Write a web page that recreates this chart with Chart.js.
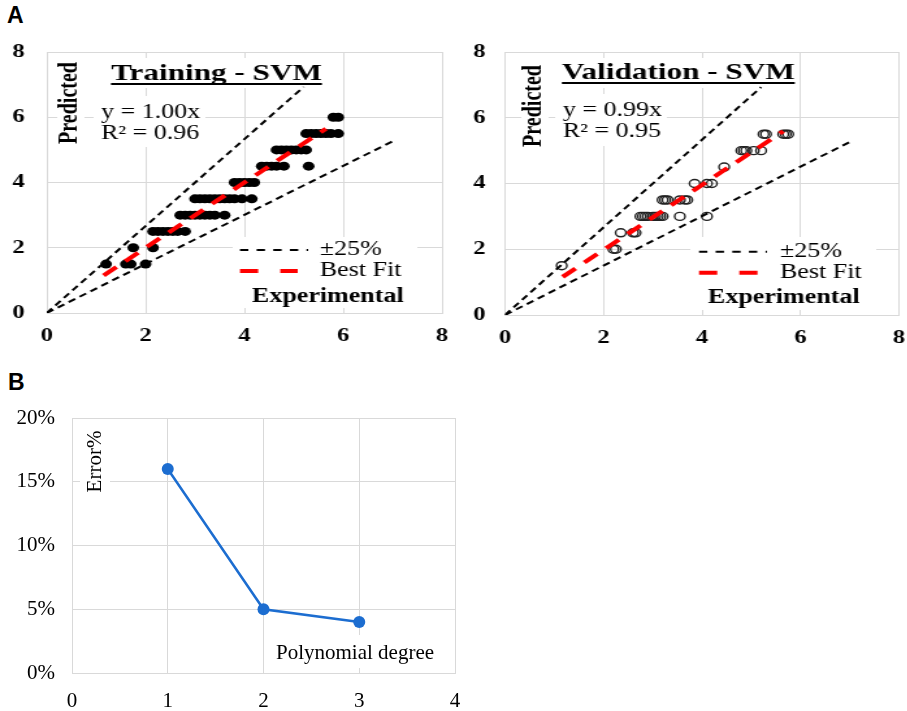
<!DOCTYPE html>
<html>
<head>
<meta charset="utf-8">
<script src="https://cdn.jsdelivr.net/npm/chart.js@4/dist/chart.umd.min.js"></script>
<style>
  html, body { margin: 0; padding: 0; background: #fff; }
  body { width: 907px; height: 711px; position: relative; overflow: hidden; }
  .panel { position: absolute; }
  .panel canvas { display: block; }
  .wide { transform-origin: 0 0; transform: scaleX(1.3); }
  .tag { position: absolute; font: bold 23px "Liberation Sans", Arial, sans-serif; line-height: 1; color: #000; }
</style>
</head>
<body>
<div class="tag" style="left:7px;top:4px;">A</div>
<div class="tag" style="left:8px;top:371px;">B</div>

<div class="panel wide" style="left:0px;top:30px;"><canvas id="train" width="350" height="330"></canvas></div>
<div class="panel wide" style="left:455px;top:30px;"><canvas id="valid" width="348" height="330"></canvas></div>
<div class="panel" style="left:0px;top:400px;"><canvas id="error" width="480" height="311"></canvas></div>

<script>
// ---- Training set: experimental vs predicted ----
const trainExperimental = [
  1.2, 1.6, 1.7, 2.0,
  1.75, 2.15,
  2.15, 2.25, 2.35, 2.45, 2.55, 2.65, 2.8,
  2.7, 2.8, 2.9, 3.0, 3.1, 3.2, 3.3, 3.4, 3.6,
  3.0, 3.1, 3.2, 3.3, 3.4, 3.5, 3.6, 3.7, 3.8, 3.95, 4.15,
  3.8, 3.9, 4.0, 4.1, 4.2,
  4.35, 4.45, 4.55, 4.65, 4.8, 5.3,
  4.65, 4.75, 4.85, 4.95, 5.05, 5.15, 5.25,
  5.25, 5.35, 5.45, 5.55, 5.65, 5.75, 5.9,
  5.8, 5.9
];
const trainPredicted = [
  1.5, 1.5, 1.5, 1.5,
  2.0, 2.0,
  2.5, 2.5, 2.5, 2.5, 2.5, 2.5, 2.5,
  3.0, 3.0, 3.0, 3.0, 3.0, 3.0, 3.0, 3.0, 3.0,
  3.5, 3.5, 3.5, 3.5, 3.5, 3.5, 3.5, 3.5, 3.5, 3.5, 3.5,
  4.0, 4.0, 4.0, 4.0, 4.0,
  4.5, 4.5, 4.5, 4.5, 4.5, 4.5,
  5.0, 5.0, 5.0, 5.0, 5.0, 5.0, 5.0,
  5.5, 5.5, 5.5, 5.5, 5.5, 5.5, 5.5,
  6.0, 6.0
];

// ---- Validation set: experimental vs predicted ----
const validExperimental = [
  1.15,
  2.2, 2.25,
  2.35, 2.6, 2.65,
  2.75, 2.8, 2.85, 2.9, 3.0, 3.05, 3.1, 3.15, 3.2, 3.55, 4.1,
  3.2, 3.25, 3.3, 3.55, 3.65, 3.7,
  3.85, 4.1, 4.2,
  4.45,
  4.8, 4.85, 4.9, 5.05, 5.2,
  5.25, 5.3, 5.65, 5.7, 5.75
];
const validPredicted = [
  1.5,
  2.0, 2.0,
  2.5, 2.5, 2.5,
  3.0, 3.0, 3.0, 3.0, 3.0, 3.0, 3.0, 3.0, 3.0, 3.0, 3.0,
  3.5, 3.5, 3.5, 3.5, 3.5, 3.5,
  4.0, 4.0, 4.0,
  4.5,
  5.0, 5.0, 5.0, 5.0, 5.0,
  5.5, 5.5, 5.5, 5.5, 5.5
];

// ±25% envelope end points and fitted lines (x, y)
const upperBandX = [0, 5.2],  upperBandY = [0, 6.93];
const lowerBandX = [0, 7.05], lowerBandY = [0, 5.3];
const trainFitX = [1.15, 5.65], trainFitY = [1.15, 5.65];
const validFitX = [1.17, 5.65], validFitY = [1.16, 5.59];

// Axis ticks for panel A
const parityTicks = [0, 2, 4, 6, 8];

// ---- Panel B: error vs polynomial degree ----
const degrees = [1, 2, 3];
const errorPct = [16, 5, 4];
const degreeTicks = [0, 1, 2, 3, 4];
const errorTicks = [0, 5, 10, 15, 20];

const SERIF = '"Liberation Serif", "Times New Roman", serif';
const GRID = '#d9d9d9';

const pts = (xs, ys) => xs.map((x, i) => ({ x: x, y: ys[i] }));
const fixedTicks = arr => scale => { scale.ticks = arr.map(v => ({ value: v })); };
// fixed axis thickness, and no extra room reserved for label overhang
const fixX = h => s => { s.height = h; s.paddingLeft = 0; s.paddingRight = 0; };
const fixY = w => s => { s.width = w; s.paddingTop = 0; s.paddingBottom = 0; };

// Text boxes, legend samples and labels drawn inside the plot area
const notesPlugin = {
  id: 'notes',
  beforeDatasetsDraw(chart, args, opts) {
    const ctx = chart.ctx;
    ctx.save();
    ctx.fillStyle = '#fff';
    (opts.boxes || []).forEach(b => ctx.fillRect(b[0], b[1], b[2] - b[0], b[3] - b[1]));
    (opts.samples || []).forEach(s => {
      ctx.beginPath();
      ctx.setLineDash(s.dash);
      ctx.lineWidth = s.width;
      ctx.strokeStyle = s.color;
      ctx.moveTo(s.x1, s.y);
      ctx.lineTo(s.x2, s.y);
      ctx.stroke();
    });
    ctx.setLineDash([]);
    (opts.texts || []).forEach(t => {
      ctx.save();
      ctx.font = t.font;
      ctx.fillStyle = '#000';
      ctx.textAlign = t.align || 'left';
      ctx.textBaseline = t.baseline || 'alphabetic';
      ctx.translate(t.x, t.y);
      if (t.rotate) ctx.rotate(t.rotate);
      ctx.fillText(t.text, 0, 0);
      if (t.underline) {
        const w = ctx.measureText(t.text).width;
        const x0 = t.align === 'center' ? -w / 2 : 0;
        ctx.fillRect(x0, 3, w, 2);
      }
      ctx.restore();
    });
    ctx.restore();
  }
};

function parityChart(id, cfg) {
  const bold19 = { family: SERIF, size: 19, weight: 'bold' };
  return new Chart(document.getElementById(id), {
    type: 'scatter',
    data: {
      datasets: [
        {
          data: pts(cfg.fitX, cfg.fitY), showLine: true, pointRadius: 0,
          borderColor: '#ff0000', borderWidth: 4, borderDash: [13, 9], borderCapStyle: 'butt'
        },
        {
          data: pts(upperBandX, upperBandY), showLine: true, pointRadius: 0,
          borderColor: '#000', borderWidth: 2, borderDash: [6, 4]
        },
        {
          data: pts(lowerBandX, lowerBandY), showLine: true, pointRadius: 0,
          borderColor: '#000', borderWidth: 2, borderDash: [6, 4]
        },
        cfg.pointsDataset
      ]
    },
    options: {
      responsive: false,
      animation: false,
      devicePixelRatio: 1,
      layout: { autoPadding: false, padding: { left: 0, top: 22, right: cfg.padRight, bottom: 0 } },
      plugins: {
        legend: { display: false },
        tooltip: { enabled: false },
        notes: cfg.notes
      },
      scales: {
        x: {
          type: 'linear', min: 0, max: 8,
          afterBuildTicks: fixedTicks(parityTicks),
          afterFit: fixX(cfg.xAxisHeight),
          grid: { color: GRID, drawTicks: false },
          border: { color: GRID },
          ticks: { font: bold19, color: '#000', padding: 12, maxRotation: 0 }
        },
        y: {
          type: 'linear', min: 0, max: 8,
          afterBuildTicks: fixedTicks(parityTicks),
          afterFit: fixY(cfg.yAxisWidth),
          grid: { color: GRID, drawTicks: false },
          border: { color: GRID },
          ticks: { font: bold19, color: '#000', padding: cfg.yTickPad }
        }
      }
    },
    plugins: [notesPlugin]
  });
}

function parityNotes(o) {
  const b20 = 'bold 20px ' + SERIF;
  const r20 = '20px ' + SERIF;
  return {
    boxes: [o.titleBox, o.predBox, o.eqBox, o.legBox],
    samples: [
      { x1: o.legX1, x2: o.legX2a, y: o.row1, dash: [6.4, 6.4], width: 2, color: '#000' },
      { x1: o.legX1, x2: o.legX2b, y: o.row2, dash: [14, 17], width: 4, color: '#ff0000' }
    ],
    texts: [
      { text: o.title, x: o.titleX, y: o.titleY, font: 'bold 24px ' + SERIF, align: 'center', underline: true },
      { text: 'Predicted', x: o.predX, y: o.predY, font: b20, align: 'center', baseline: 'middle', rotate: -Math.PI / 2 },
      { text: o.eq1, x: o.eqX, y: o.eqY1, font: r20 },
      { text: o.eq2, x: o.eqX, y: o.eqY2, font: r20 },
      { text: '±25%', x: o.legTextX, y: o.row1, font: r20, baseline: 'middle' },
      { text: 'Best Fit', x: o.legTextX, y: o.row2, font: r20, baseline: 'middle' },
      { text: 'Experimental', x: o.expX, y: o.row3, font: b20, baseline: 'middle' }
    ]
  };
}

parityChart('train', {
  fitX: trainFitX, fitY: trainFitY,
  padRight: 10, xAxisHeight: 47, yAxisWidth: 36, yTickPad: 17,
  pointsDataset: {
    data: pts(trainExperimental, trainPredicted),
    pointRadius: 4.5, pointHoverRadius: 4.5, borderWidth: 0,
    backgroundColor: '#000', pointBackgroundColor: '#000'
  },
  notes: parityNotes({
    title: 'Training - SVM', titleX: 166.5, titleY: 50, titleBox: [80, 28, 254, 58],
    predX: 53.5, predY: 73, predBox: [44, 30, 65, 116],
    eq1: 'y = 1.00x', eq2: 'R² = 0.96', eqX: 77.7, eqY1: 88, eqY2: 109, eqBox: [72, 66, 158, 117],
    legBox: [179, 207, 321, 278],
    legX1: 184.6, legX2a: 237, legX2b: 229, legTextX: 246,
    row1: 220, row2: 241, row3: 267, expX: 193.8
  })
});

parityChart('valid', {
  fitX: validFitX, fitY: validFitY,
  padRight: 6.5, xAxisHeight: 45, yAxisWidth: 38.5, yTickPad: 15,
  pointsDataset: {
    data: pts(validExperimental, validPredicted),
    pointRadius: 4, pointHoverRadius: 4, borderWidth: 1.4,
    borderColor: '#222', backgroundColor: 'rgba(0,0,0,0)',
    pointBorderColor: '#222', pointBackgroundColor: 'rgba(0,0,0,0)'
  },
  notes: parityNotes({
    title: 'Validation - SVM', titleX: 171.8, titleY: 49, titleBox: [82, 28, 262, 58],
    predX: 60.4, predY: 76, predBox: [51, 30, 72, 120],
    eq1: 'y = 0.99x', eq2: 'R² = 0.95', eqX: 83, eqY1: 86, eqY2: 107, eqBox: [77, 64, 163, 116],
    legBox: [181, 207, 324, 280],
    legX1: 187.7, legX2a: 240, legX2b: 233, legTextX: 250,
    row1: 221.7, row2: 242.7, row3: 268, expX: 194.6
  })
});

// ---- Panel B ----
const r21 = { family: SERIF, size: 21 };
new Chart(document.getElementById('error'), {
  type: 'scatter',
  data: {
    datasets: [{
      data: pts(degrees, errorPct),
      showLine: true,
      borderColor: '#1c6dd0', borderWidth: 2.5,
      pointRadius: 6, pointHoverRadius: 6, pointBorderWidth: 0,
      pointBackgroundColor: '#1c6dd0', backgroundColor: '#1c6dd0'
    }]
  },
  options: {
    responsive: false,
    animation: false,
    devicePixelRatio: 1,
    layout: { autoPadding: false, padding: { left: 0, top: 18, right: 25, bottom: 0 } },
    plugins: {
      legend: { display: false },
      tooltip: { enabled: false },
      notes: {
        boxes: [[80, 25, 110, 98], [270, 235, 446, 268]],
        texts: [
          { text: 'Error%', x: 95, y: 61.5, font: '21px ' + SERIF, align: 'center', baseline: 'middle', rotate: -Math.PI / 2 },
          { text: 'Polynomial degree', x: 276, y: 259, font: '21px ' + SERIF }
        ]
      }
    },
    scales: {
      x: {
        type: 'linear', min: 0, max: 4,
        afterBuildTicks: fixedTicks(degreeTicks),
        afterFit: fixX(38),
        grid: { color: GRID, drawTicks: false },
        border: { color: GRID },
        ticks: { font: r21, color: '#000', padding: 16, maxRotation: 0 }
      },
      y: {
        type: 'linear', min: 0, max: 20,
        afterBuildTicks: fixedTicks(errorTicks),
        afterFit: fixY(72),
        grid: { color: GRID, drawTicks: false },
        border: { color: GRID },
        ticks: { font: r21, color: '#000', padding: 17, callback: v => v + '%' }
      }
    }
  },
  plugins: [notesPlugin]
});
</script>
</body>
</html>
